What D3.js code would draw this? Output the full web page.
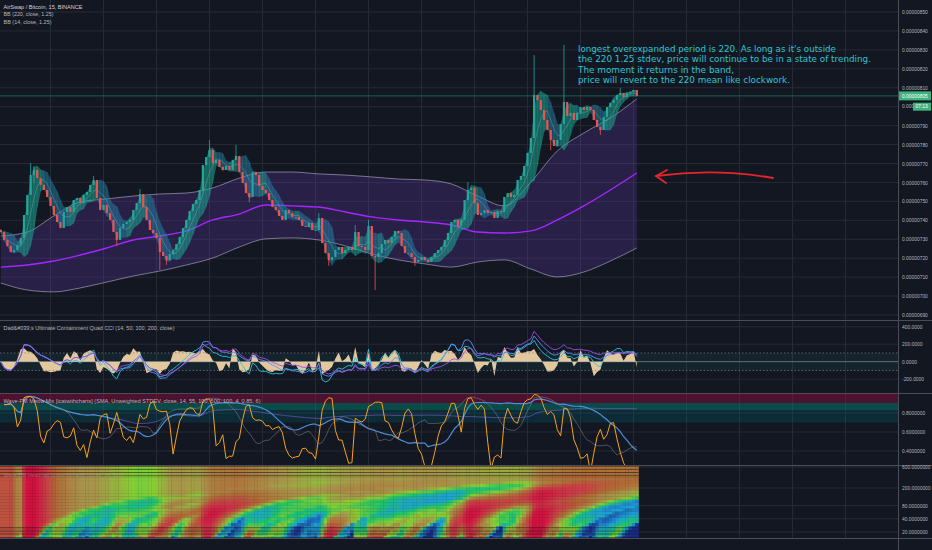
<!DOCTYPE html>
<html>
<head>
<meta charset="utf-8">
<script src="https://cdnjs.cloudflare.com/ajax/libs/d3/7.8.5/d3.min.js"></script>
<style>
  html, body { margin: 0; padding: 0; background: #131722; }
  svg { display: block; }
</style>
</head>
<body>
<div id="container"></div>
<script>
//******************** DATA ********************//
// closes in satoshi (x 1e-8 BTC), one candle every 45 minutes from 17th 00:45
const closes = [
  733.8,729.6,726.4,723.2,724.3,727.0,730.7,742.8,753.4,763.9,
  766.6,762.3,758.7,756.0,752.3,747.6,742.8,739.1,735.9,744.4,
  747.0,744.4,750.7,751.8,749.1,753.4,755.0,758.7,761.3,751.8,
  745.4,748.1,743.8,740.2,733.8,729.6,735.9,738.1,739.1,740.2,
  745.4,749.1,753.9,747.0,740.2,734.9,733.3,730.7,723.2,721.2,
  719.0,722.2,724.3,727.5,731.2,735.9,740.2,744.9,748.6,750.7,
  756.0,769.2,773.4,777.1,770.3,771.9,768.2,766.6,768.7,766.6,
  771.9,774.0,765.5,759.7,754.4,752.3,765.5,763.9,758.1,756.0,
  754.4,750.7,747.0,745.4,742.3,740.2,745.4,743.8,741.7,741.7,
  740.2,737.0,736.5,738.6,734.9,734.9,741.2,728.0,722.7,719.0,
  720.6,724.3,725.9,722.7,724.3,725.9,724.3,733.8,726.4,725.9,
  724.3,737.0,721.2,720.6,722.7,727.5,729.6,728.0,731.2,734.4,
  733.3,726.4,722.7,722.7,720.6,718.0,719.0,720.6,719.0,718.0,
  720.6,722.7,724.3,725.9,729.6,733.3,739.1,740.2,737.0,740.2,
  750.7,756.0,757.1,749.1,742.8,743.8,745.4,743.8,744.4,741.2,
  744.9,744.4,752.3,754.4,752.3,753.4,761.3,763.4,768.7,775.6,
  783.5,806.2,803.5,798.3,793.0,787.7,782.4,779.3,782.4,790.9,
  802.5,795.1,796.7,793.0,796.7,799.8,798.3,799.8,798.3,793.0,
  789.3,787.7,794.6,799.8,802.0,803.5,806.2,807.2,805.1,807.2,
  807.8,808.8,805.7
];
const firstOpen = 735.0;
const candleHours = 0.75;
// [candle index, high, low] for the visible wicks
const spikes = [
  [9, 770.3, null], [10, 768.5, 760.0], [28, 763.5, null], [35, null, 726.5],
  [42, 756.5, null], [48, null, 713.8], [50, null, 716.5], [63, 782.4, null],
  [71, 779.8, null], [75, null, 749.5], [96, 743.8, null], [99, null, 716.0],
  [107, 737.5, null], [111, 740.2, null], [113, null, 703.2], [125, null, 716.0],
  [141, 760.2, null], [161, 827.3, null], [166, null, 777.0], [170, 832.6, null],
  [181, null, 785.1], [187, 810.0, null]
];

// BB (220, close, 1.25), read every 8th candle
const bbEvery = 8;
const bb220Upper = [731.7,733.8,742.3,749.7,751.3,752.8,753.9,754.4,757.1,762.3,765.5,765.5,764.5,
                    763.9,762.9,761.8,761.3,759.2,752.8,747.6,760.2,776.6,786.1,794.0,804.1];
const bb220Basis = [715.3,716.4,718.5,721.7,725.4,729.6,731.7,734.4,740.2,743.3,748.1,747.6,747.0,
                    744.4,741.8,740.2,739.1,737.5,733.8,733.3,734.4,740.2,747.6,756.0,765.0];
const bb220Lower = [706.9,703.2,702.2,704.3,707.4,710.6,713.2,716.4,720.1,725.9,730.2,730.7,729.6,
                    726.5,722.2,719.1,717.0,715.3,718.0,719.1,714.3,710.1,712.7,718.5,725.4];

const priceTicks = [850,840,830,820,810,790,780,770,760,750,740,730,720,710,700,690];
const hiddenTick = 800;   // mostly covered by the countdown label
const lastPrice = 805.7;
const lastPriceText = "0.00000805";
const countdownText = "07:13";
// hours since 17th 00:00
const timeTicks = [[12,"12:00"],[24,"18"],[36,"12:00"],[48,"19"],[60,"12:00"],[72,"20"],
                   [84,"12:00"],[96,"21"],[108,"12:00"],[120,"22"],[132,"12:00"],[144,"23"],
                   [156,"12:00"],[168,"24"],[180,"12:00"],[192,"25"],[204,"12:00"]];
const cciTicks = [400, 200, 0, -200];
const cciLevels = [100, -100];
const cciPeriods = [14, 50, 100, 200];
const waveTicks = [0.8, 0.6, 0.4];
const wavePeriods = [14, 55, 100, 500];
const waveLookback = 100;
const heatTicks = [600, 200, 80, 40, 20];
const heatPeriods = [15,18,21,25,30,35,40,47,55,64,75,88,100,120,140,165,195,230,270,320,380,450,530,620];

const legendMain = ["AirSwap / Bitcoin, 15, BINANCE", "BB (220, close, 1.25)", "BB (14, close, 1.25)"];
const legendCci = "Dad&#039;s Ultimate Containment Quad CCI (14, 50, 100, 200, close)";
const legendWave = "Wave-PM Meow Mix [icatwithcharts] (SMA, Unweighted STDEV, close, 14, 55, 100, 500, 100, 4, 0.85, 6)";
const legendHeat = "Wave-PM Heatmap [icatwithcharts] (close, 14, 600)";
const note = [
  "longest overexpanded period is 220. As long as it's outside",
  "the 220 1.25 stdev, price will continue to be in a state of trending.",
  "The moment it returns in the band,",
  "price will revert to the 220 mean like clockwork."
];

//******************** PREPARING ********************//
const width = 932, height = 550, right = 898;
const bg = "#131722", gridColor = "#262a35", sepColor = "#4a4d58", textColor = "#b2b5be";
const up = "#26a69a", down = "#ef5350";
const labelFont = "Liberation Sans, Arial, sans-serif";

const svg = d3.select("#container").append("svg")
    .attr("width", width).attr("height", height);
svg.append("rect").attr("width", width).attr("height", height).attr("fill", bg);

const panes = {
  main: [0, 320], cci: [321, 393], wave: [394, 465], heat: [466, 538], time: [538, 550]
};
const defs = svg.append("defs");
Object.entries(panes).forEach(([k, [a, b]]) => {
  defs.append("clipPath").attr("id", "clip-" + k)
    .append("rect").attr("x", 0).attr("y", a).attr("width", right).attr("height", b - a);
});

//---------- SCALES ----------//
const xScale = d3.scaleLinear().domain([0, 204]).range([-2.5, 898.5]);
const yMain = d3.scaleLinear().domain([690, 850]).range([315, 12]);
const yCci = d3.scaleLinear().domain([-200, 400]).range([379.2, 326.7]);
const yWave = d3.scaleLinear().domain([0.4, 0.8]).range([451, 413]);
const yHeat = d3.scaleLog().domain([20, 600]).range([532, 467]);
const tOf = i => (i + 1) * candleHours;

//---------- INDICATORS ----------//
function windowAt(arr, i, n) { return arr.slice(Math.max(0, i - n + 1), i + 1); }
function popDev(w) { const m = d3.mean(w); return Math.sqrt(d3.mean(w, v => (v - m) * (v - m))); }
// periods are given in 15 minute bars, candles here are 45 minutes
const bars = p => Math.max(2, Math.round(p / 3));

const bb14 = closes.map((c, i) => {
  const w = windowAt(closes, i, bars(14));
  const m = d3.mean(w), sd = popDev(w) * 1.25;
  return { m, u: m + sd, l: m - sd };
});

function cci(p) {
  const n = bars(p);
  return closes.map((c, i) => {
    const w = windowAt(closes, i, n), m = d3.mean(w);
    const md = d3.mean(w, v => Math.abs(v - m));
    return md > 0 ? (c - m) / (0.015 * md) : 0;
  });
}
function wavePM(p) {
  const n = bars(p), lb = bars(waveLookback);
  const dev = closes.map((c, i) => popDev(windowAt(closes, i, n)));
  return dev.map((d, i) => {
    const rms = Math.sqrt(d3.mean(windowAt(dev, i, lb), v => v * v));
    return rms > 0 ? Math.tanh(d / rms) : 0;
  });
}

const candles = closes.map((c, i) => {
  const o = i === 0 ? firstOpen : closes[i - 1];
  return { i, o, c, h: Math.max(o, c), l: Math.min(o, c) };
});
spikes.forEach(([i, h, l]) => {
  if (h != null) candles[i].h = h;
  if (l != null) candles[i].l = l;
});

//******************** DRAWING ********************//
//---------- GRID ----------//
const grid = svg.append("g");
grid.selectAll(".vgrid").data(timeTicks).join("line")
  .attr("x1", d => xScale(d[0])).attr("x2", d => xScale(d[0]))
  .attr("y1", 0).attr("y2", 538).attr("stroke", gridColor);
grid.append("g").selectAll("line").data(priceTicks.concat([hiddenTick])).join("line")
  .attr("x1", 0).attr("x2", right).attr("y1", d => yMain(d)).attr("y2", d => yMain(d))
  .attr("stroke", gridColor);
[[cciTicks, yCci], [waveTicks, yWave], [heatTicks, yHeat]].forEach(([ticks, sc]) => {
  grid.append("g").selectAll("line").data(ticks).join("line")
    .attr("x1", 0).attr("x2", right).attr("y1", d => sc(d)).attr("y2", d => sc(d))
    .attr("stroke", gridColor);
});

//---------- MAIN PANE ----------//
const main = svg.append("g").attr("clip-path", "url(#clip-main)");
const bbPts = bb220Basis.map((b, k) => ({
  t: tOf(k * bbEvery), u: bb220Upper[k], m: b, l: bb220Lower[k]
}));
main.append("path").datum(bbPts)
  .attr("d", d3.area().curve(d3.curveMonotoneX).x(d => xScale(d.t))
    .y0(d => yMain(d.l)).y1(d => yMain(d.u)))
  .attr("fill", "rgba(103,58,183,0.25)");
["u", "l"].forEach(k => {
  main.append("path").datum(bbPts)
    .attr("d", d3.line().curve(d3.curveMonotoneX).x(d => xScale(d.t)).y(d => yMain(d[k])))
    .attr("fill", "none").attr("stroke", "#b9b2d0").attr("stroke-opacity", 0.75).attr("stroke-width", 0.8);
});
main.append("path").datum(bbPts)
  .attr("d", d3.line().curve(d3.curveMonotoneX).x(d => xScale(d.t)).y(d => yMain(d.m)))
  .attr("fill", "none").attr("stroke", "#a526ff").attr("stroke-width", 1.4);

// BB 14 band, coloured by direction of its basis
const bandCol = i => bb14[i].m >= bb14[i - 1].m ? "rgba(30,170,150,0.5)" : "rgba(40,135,170,0.45)";
main.append("g").selectAll("path").data(d3.range(1, closes.length)).join("path")
  .attr("d", i => {
    const a = bb14[i - 1], b = bb14[i], x0 = xScale(tOf(i - 1)), x1 = xScale(tOf(i));
    return `M${x0},${yMain(a.u)}L${x1},${yMain(b.u)}L${x1},${yMain(b.l)}L${x0},${yMain(a.l)}Z`;
  })
  .attr("fill", bandCol).attr("stroke", bandCol).attr("stroke-width", 0.4);
main.append("path").datum(bb14)
  .attr("d", d3.line().x((d, i) => xScale(tOf(i))).y(d => yMain(d.m)))
  .attr("fill", "none").attr("stroke", "#a8e0da").attr("stroke-opacity", 0.5).attr("stroke-width", 0.5);

// candles
const cg = main.append("g");
cg.selectAll("line").data(candles).join("line")
  .attr("x1", d => xScale(tOf(d.i))).attr("x2", d => xScale(tOf(d.i)))
  .attr("y1", d => yMain(d.h)).attr("y2", d => yMain(d.l))
  .attr("stroke", d => d.c >= d.o ? up : down).attr("stroke-width", 0.8);
cg.selectAll("rect").data(candles).join("rect")
  .attr("x", d => xScale(tOf(d.i)) - 1.1).attr("width", 2.2)
  .attr("y", d => yMain(Math.max(d.o, d.c)))
  .attr("height", d => Math.max(0.7, yMain(Math.min(d.o, d.c)) - yMain(Math.max(d.o, d.c))))
  .attr("fill", d => d.c >= d.o ? up : down);

// last price line
main.append("line").attr("x1", 0).attr("x2", right)
  .attr("y1", yMain(lastPrice)).attr("y2", yMain(lastPrice))
  .attr("stroke", up).attr("stroke-opacity", 0.7).attr("stroke-width", 0.7);

// annotation
const noteWidths = [258, 293, 156, 212];
svg.append("g").selectAll("text").data(note).join("text")
  .attr("x", 578).attr("y", (d, i) => 51.5 + i * 10.5)
  .attr("textLength", (d, i) => noteWidths[i]).attr("lengthAdjust", "spacingAndGlyphs")
  .attr("font-family", "DejaVu Sans, sans-serif").attr("font-size", 8)
  .attr("fill", "#2ec4d0").text(d => d);

// red arrow
const arrow = svg.append("g").attr("fill", "none").attr("stroke", "#e5252c")
  .attr("stroke-width", 1.8).attr("stroke-linecap", "round");
arrow.append("path").attr("d", "M773,178 Q715,168 656,176");
arrow.append("path").attr("d", "M667,170 L656,176 L666,183");

//---------- CCI PANE ----------//
const cciG = svg.append("g").attr("clip-path", "url(#clip-cci)");
cciG.append("rect").attr("x", 0).attr("width", right)
  .attr("y", yCci(100)).attr("height", yCci(-100) - yCci(100))
  .attr("fill", "rgba(38,166,154,0.09)");
const cciVals = cciPeriods.map(cci);
cciG.append("path").datum(cciVals[0])
  .attr("d", d3.area().x((d, i) => xScale(tOf(i))).y0(yCci(0)).y1(d => yCci(d)))
  .attr("fill", "#f6d7a7").attr("fill-opacity", 0.92);
[["#26c6da", 1], ["#5b8ff9", 2], ["#a14be8", 3]].forEach(([col, k]) => {
  cciG.append("path").datum(cciVals[k])
    .attr("d", d3.line().x((d, i) => xScale(tOf(i))).y(d => yCci(d)))
    .attr("fill", "none").attr("stroke", col).attr("stroke-width", 0.9);
});
cciG.append("line").attr("x1", 0).attr("x2", right).attr("y1", yCci(0)).attr("y2", yCci(0))
  .attr("stroke", "#d1d4dc").attr("stroke-opacity", 0.6).attr("stroke-width", 0.6);
cciG.selectAll(".lvl").data(cciLevels).join("line")
  .attr("x1", 0).attr("x2", right).attr("y1", d => yCci(d)).attr("y2", d => yCci(d))
  .attr("stroke", "#787b86").attr("stroke-dasharray", "1.5,2").attr("stroke-width", 0.7);

//---------- WAVE PANE ----------//
const waveG = svg.append("g").attr("clip-path", "url(#clip-wave)");
[[1.1, 0.905, "rgba(136,14,60,0.5)"], [0.905, 0.83, "rgba(0,137,123,0.45)"],
 [0.83, 0.7, "rgba(0,96,110,0.28)"]].forEach(([a, b, col]) => {
  waveG.append("rect").attr("x", 0).attr("width", right)
    .attr("y", yWave(a)).attr("height", yWave(b) - yWave(a)).attr("fill", col);
});
const waveVals = wavePeriods.map(wavePM);
[["#7e57c2", 3, 0.9, 0.7], ["#4a8fd8", 2, 1.2, 1], ["#8a8d96", 1, 0.7, 0.7], ["#f7a21b", 0, 1, 1]]
  .forEach(([col, k, w, op]) => {
    waveG.append("path").datum(waveVals[k].slice(1))
      .attr("d", d3.line().x((d, i) => xScale(tOf(i + 1))).y(d => yWave(d)))
      .attr("fill", "none").attr("stroke", col).attr("stroke-width", w).attr("stroke-opacity", op);
  });

//---------- HEATMAP PANE ----------//
const heatG = svg.append("g").attr("clip-path", "url(#clip-heat)");
const heatColor = d3.scaleLinear()
  .domain([0.25, 0.45, 0.6, 0.7, 0.78, 0.86, 0.92, 0.97])
  .range(["#1a2d8f", "#1e9fd8", "#1fc46b", "#86cf34", "#a8944a", "#b06a36", "#cc3848", "#d0103e"])
  .clamp(true);
const cellW = xScale(tOf(1)) - xScale(tOf(0));
heatPeriods.forEach((p, k) => {
  const lo = k === 0 ? 14 : Math.sqrt(heatPeriods[k - 1] * p);
  const hi = k === heatPeriods.length - 1 ? 640 : Math.sqrt(heatPeriods[k + 1] * p);
  const vals = wavePM(p);
  heatG.append("g").selectAll("rect").data(vals.slice(1)).join("rect")
    .attr("x", (d, i) => i === 0 ? 0 : xScale(tOf(i + 1)) - cellW / 2)
    .attr("width", (d, i) => i === 0 ? xScale(tOf(1)) + cellW / 2 + 0.3 : cellW + 0.3)
    .attr("y", yHeat(hi)).attr("height", yHeat(lo) - yHeat(hi) + 0.3)
    .attr("fill", d => heatColor(d));
});
// dark seams between some rows, as in the original rendering
heatG.append("g").selectAll("line")
  .data(heatPeriods.filter((p, k) => k < 4 || k > 19))
  .join("line")
  .attr("x1", 0).attr("x2", xScale(tOf(closes.length - 1)) + cellW / 2)
  .attr("y1", p => yHeat(p)).attr("y2", p => yHeat(p))
  .attr("stroke", "#1a1410").attr("stroke-opacity", 0.7).attr("stroke-width", 0.8);

//---------- SEPARATORS ----------//
[320.5, 393.5, 465.5, 538.5].forEach(y => {
  svg.append("line").attr("x1", 0).attr("x2", width).attr("y1", y).attr("y2", y)
    .attr("stroke", sepColor).attr("stroke-width", 1);
});
svg.append("line").attr("x1", right + 0.5).attr("x2", right + 0.5).attr("y1", 0).attr("y2", height)
  .attr("stroke", sepColor);

//---------- AXES ----------//
function styleAxis(g) {
  g.select(".domain").remove();
  g.selectAll("text").attr("font-family", labelFont).attr("font-size", 4.9).attr("fill", textColor);
}
svg.append("g").attr("transform", `translate(${right},0)`)
  .call(d3.axisRight(yMain).tickValues(priceTicks).tickSize(0).tickPadding(4)
    .tickFormat(d => (d * 1e-8).toFixed(8)))
  .call(styleAxis);
svg.append("g").attr("transform", `translate(${right},0)`)
  .call(d3.axisRight(yCci).tickValues(cciTicks).tickSize(0).tickPadding(4).tickFormat(d => d.toFixed(4)))
  .call(styleAxis);
svg.append("g").attr("transform", `translate(${right},0)`)
  .call(d3.axisRight(yWave).tickValues(waveTicks).tickSize(0).tickPadding(4).tickFormat(d => d.toFixed(7)))
  .call(styleAxis);
svg.append("g").attr("transform", `translate(${right},0)`)
  .call(d3.axisRight(yHeat).tickValues(heatTicks).tickSize(0).tickPadding(4).tickFormat(d => d.toFixed(7)))
  .call(styleAxis);
svg.append("g").attr("transform", "translate(0,540)").attr("clip-path", "url(#clip-time)")
  .call(d3.axisBottom(xScale).tickValues(timeTicks.map(d => d[0])).tickSize(0).tickPadding(3)
    .tickFormat(t => timeTicks.find(d => d[0] === t)[1]))
  .call(styleAxis);

// last price and countdown labels; only the start of the 800 tick shows beside the countdown
const lp = svg.append("g").attr("font-family", labelFont).attr("font-size", 4.9);
lp.append("text").attr("x", 902).attr("y", yMain(hiddenTick) + 1.7).attr("fill", textColor)
  .text((hiddenTick * 1e-8).toFixed(8).slice(0, 5));
lp.append("rect").attr("x", 913).attr("y", yMain(hiddenTick) - 4).attr("width", 18).attr("height", 8)
  .attr("fill", "#3fb27f");
lp.append("text").attr("x", 915.5).attr("y", yMain(hiddenTick) + 1.7).attr("fill", "#ffffff")
  .text(countdownText);
lp.append("rect").attr("x", 899).attr("y", yMain(lastPrice) - 4.5).attr("width", 32).attr("height", 9)
  .attr("fill", "#3fb27f");
lp.append("text").attr("x", 902).attr("y", yMain(lastPrice) + 1.7).attr("fill", "#ffffff")
  .text(lastPriceText);

//---------- LEGENDS ----------//
const leg = svg.append("g").attr("font-family", labelFont).attr("fill", textColor);
const mainLegW = [79, 50, 48];
leg.selectAll(".lm").data(legendMain).join("text")
  .attr("x", 3.5).attr("y", (d, i) => 8.6 + i * 7.8).attr("font-size", 5.4)
  .attr("textLength", (d, i) => mainLegW[i]).attr("lengthAdjust", "spacingAndGlyphs")
  .attr("fill", (d, i) => i === 0 ? "#d1d4dc" : textColor).text(d => d);
[[legendCci, 329.6, 171, 1], [legendWave, 402.5, 257, 1], [legendHeat, 476.5, 120, 0.45]]
  .forEach(([t, y, w, op]) => {
    leg.append("text").attr("x", 3.5).attr("y", y).attr("font-size", 5.2)
      .attr("textLength", w).attr("lengthAdjust", "spacingAndGlyphs")
      .attr("fill-opacity", op).text(t);
  });
</script>
</body>
</html>
